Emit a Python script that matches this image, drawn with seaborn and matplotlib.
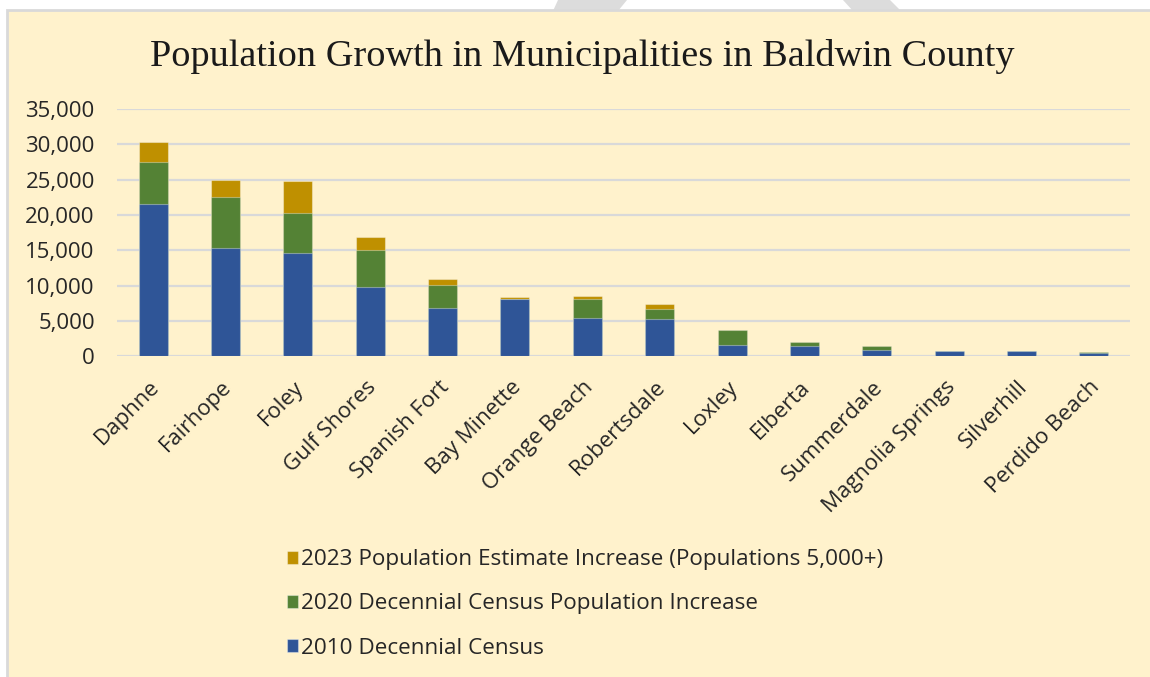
import matplotlib
matplotlib.use("Agg")
import matplotlib.pyplot as plt
from matplotlib.patches import Rectangle, Polygon
from matplotlib.ticker import FuncFormatter
from matplotlib.transforms import ScaledTranslation
import numpy as np
import pandas as pd
import seaborn as sns

cities = ['Daphne', 'Fairhope', 'Foley', 'Gulf Shores', 'Spanish Fort', 'Bay Minette',
          'Orange Beach', 'Robertsdale', 'Loxley', 'Elberta', 'Summerdale',
          'Magnolia Springs', 'Silverhill', 'Perdido Beach']
census_2010 = [21570, 15326, 14618, 9741, 6798, 8044, 5441, 5276, 1632, 1500, 862, 723, 706, 520]
increase_2020 = [5892, 7151, 5717, 5273, 3251, 63, 2654, 1432, 2043, 480, 623, 80, 80, 60]
increase_2023 = [2880, 2520, 4520, 1860, 870, 300, 460, 710, 0, 0, 0, 0, 0, 0]

labels = ['2023 Population Estimate Increase (Populations 5,000+)',
          '2020 Decennial Census Population Increase',
          '2010 Decennial Census']
colors = ['#BF9000', '#548235', '#2F5597']

df = pd.DataFrame({'city': cities, 'c2010': census_2010,
                   'i2020': increase_2020, 'i2023': increase_2023})
df['top2020'] = df['c2010'] + df['i2020']
df['top2023'] = df['top2020'] + df['i2023']

W, H = 1150, 677
fig = plt.figure(figsize=(W / 100, H / 100), dpi=100, facecolor='white')

# grey shapes peeking above the chart frame
for pts in [[(558, 0), (627, 0), (618, 11), (553, 11)],
            [(843, 0), (890, 0), (901, 11), (853, 11)]]:
    fig.patches.append(Polygon([(x / W, 1 - y / H) for x, y in pts],
                               closed=True, transform=fig.transFigure,
                               facecolor='#DCDCDC', edgecolor='none', zorder=-3))
# chart frame
fig.patches.append(Rectangle((7 / W, -0.01), 1.02 - 7 / W, 1.01 - 10 / H,
                             transform=fig.transFigure, facecolor='#FFF2CC',
                             edgecolor='#D9D9D9', linewidth=2, zorder=-2))

ax = fig.add_axes([117 / W, 1 - 356.3 / H, 1013 / W, (356.3 - 109) / H])
ax.set_facecolor('none')

for col, lab, c in zip(['top2023', 'top2020', 'c2010'], labels, colors):
    sns.barplot(data=df, x='city', y=col, color=c, saturation=1, width=0.4, label=lab,
                edgecolor=(1, 1, 1, 0.35), linewidth=0.8, ax=ax, zorder=3)

ax.set_ylim(0, 35000)
ax.set_yticks(np.arange(0, 35001, 5000))
ax.yaxis.set_major_formatter(FuncFormatter(lambda v, p: f'{int(v):,}'))
ax.grid(axis='y', color='#D9D9D9', linewidth=1.6, zorder=0)
ax.set_axisbelow(True)
for s in ax.spines.values():
    s.set_visible(False)
ax.set_xlabel('')
ax.set_ylabel('')
ax.tick_params(axis='y', length=0, pad=16, labelsize=16, labelcolor='#262626')
ax.tick_params(axis='x', length=0, pad=20, labelsize=16, labelcolor='#262626')
shift = ScaledTranslation(3 / 100, 0, fig.dpi_scale_trans)
for t in ax.get_xticklabels():
    t.set_rotation(45)
    t.set_ha('right')
    t.set_va('center')
    t.set_rotation_mode('anchor')
    t.set_transform(t.get_transform() + shift)
for t in ax.get_xticklabels() + ax.get_yticklabels():
    t.set_fontfamily('Open Sans')

if ax.legend_:
    ax.legend_.remove()
handles, labs = ax.get_legend_handles_labels()
leg = fig.legend(handles, labs, loc='upper left', bbox_to_anchor=(267 / W, 1 - 529 / H),
                 frameon=False, ncol=1, handlelength=0.48, handleheight=0.48,
                 handletextpad=0.15, labelspacing=1.03,
                 prop={'family': 'Open Sans', 'size': 16.2})
for t in leg.get_texts():
    t.set_color('#262626')

fig.text(582 / W, 1 - 57 / H, 'Population Growth in Municipalities in Baldwin County',
         ha='center', va='center', fontsize=27.5, family='Liberation Serif', color='#1a1a1a')

fig.savefig('out.png', dpi=100, facecolor='white')
